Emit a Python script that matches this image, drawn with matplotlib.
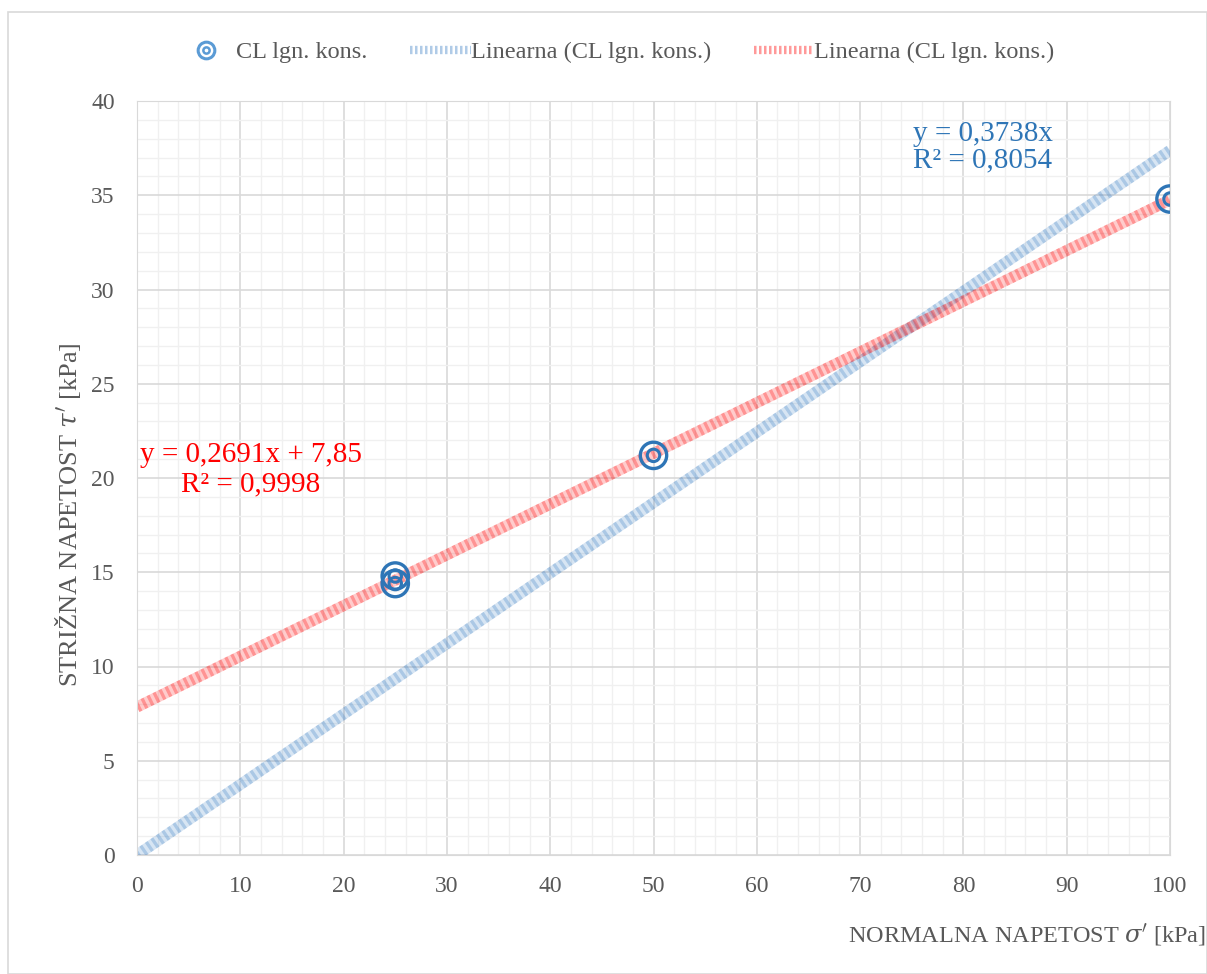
import numpy as np
import matplotlib.pyplot as plt
from matplotlib.lines import Line2D
from matplotlib.patches import Rectangle
from matplotlib.legend_handler import HandlerTuple

plt.rcParams['font.family'] = ['Liberation Serif', 'DejaVu Serif']
plt.rcParams['mathtext.fontset'] = 'dejavuserif'

# Measured points: normal stress vs shear stress [kPa]
sigma = [25, 25, 50, 100]
tau = [14.8, 14.4, 21.2, 34.8]

# Trendlines
slope_origin = 0.3738
r2_origin = "0,8054"
slope_lin = 0.2691
intercept_lin = 7.85
r2_lin = "0,9998"

series_label = "CL lgn. kons."
trend_label = "Linearna (CL lgn. kons.)"

blue = '#2e75b6'
red = '#ff0000'
gray_txt = '#595959'


def dec(v):
    return str(v).replace('.', ',')


fig = plt.figure(figsize=(12.07, 9.74), dpi=100)
fig.patches.append(Rectangle((8 / 1207, 0.0), 1 - 8 / 1207, 1 - 12 / 974,
                             transform=fig.transFigure, fill=False,
                             edgecolor='#d9d9d9', lw=1.2, zorder=0))
ax = fig.add_axes([137 / 1207, 1 - 855 / 974, (1170 - 137) / 1207, (855 - 101) / 974])

ax.set_xlim(0, 100)
ax.set_ylim(0, 40)
ax.set_xticks(np.arange(0, 101, 10))
ax.set_yticks(np.arange(0, 41, 5))
ax.set_xticks(np.arange(0, 101, 2), minor=True)
ax.set_yticks(np.arange(0, 41, 1), minor=True)
ax.grid(which='major', color='#d9d9d9', lw=1.2, zorder=0)
ax.grid(which='minor', color='#f0f0f0', lw=1.0, zorder=0)
ax.set_axisbelow(True)
for s in ax.spines.values():
    s.set_color('#d9d9d9')
ax.tick_params(which='both', length=0, labelsize=17, colors=gray_txt)
ax.tick_params(axis='x', pad=15)
ax.tick_params(axis='y', pad=16)


def textured_line(x, y, color):
    ax.plot(x, y, color=color, lw=8, alpha=0.2, solid_capstyle='butt', zorder=2)
    ax.plot(x, y, color=color, lw=8, alpha=0.28, dashes=(0.3, 0.3),
            solid_capstyle='butt', zorder=2)


xs = np.array([0, 100])
textured_line(xs, slope_origin * xs, '#3a7fc4')
textured_line(xs, slope_lin * xs + intercept_lin, red)

ax.scatter(sigma, tau, s=360, facecolors='none', edgecolors=blue, linewidths=2.4, zorder=4)
ax.scatter(sigma, tau, s=80, facecolors='none', edgecolors=blue, linewidths=2.2, zorder=4)

ax.text(75.1, 37.55, f"y = {dec(slope_origin)}x\nR² = {r2_origin}",
        color=blue, fontsize=21, ha='left', va='center', linespacing=1.05)
ax.text(11.0, 20.45, f"y = {dec(slope_lin)}x + {dec(intercept_lin)}\nR² = {r2_lin}",
        color=red, fontsize=21, ha='center', va='center', linespacing=1.2)

fig.text(68 / 1207, 1 - 515 / 974, "STRIŽNA NAPETOST $\\tau'$ [kPa]", rotation=90,
         ha='center', va='center', fontsize=19, color=gray_txt)
fig.text(1206 / 1207, 1 - 935 / 974, "NORMALNA NAPETOST $\\sigma'$ [kPa]",
         ha='right', va='center', fontsize=17.5, color=gray_txt)

marker_handle = (
    Line2D([], [], ls='none', marker='o', ms=12, mfc='none', mec='#5b9bd5', mew=2.2),
    Line2D([], [], ls='none', marker='o', ms=4.5, mfc='none', mec='#5b9bd5', mew=1.8),
)
handles = [
    marker_handle,
    Line2D([], [], color='#3a7fc4', lw=6, alpha=0.4, dashes=(0.3, 0.3)),
    Line2D([], [], color=red, lw=6, alpha=0.4, dashes=(0.3, 0.3)),
]
leg = fig.legend(handles, [series_label, trend_label, trend_label], loc='center',
                 bbox_to_anchor=(615 / 1207, 1 - 52 / 974), ncol=3, frameon=False,
                 fontsize=17.5, handlelength=2.5, handletextpad=0.0, columnspacing=1.75,
                 handler_map={tuple: HandlerTuple(ndivide=1)})
for t in leg.get_texts():
    t.set_color(gray_txt)

fig.savefig('out.png', dpi=100)
